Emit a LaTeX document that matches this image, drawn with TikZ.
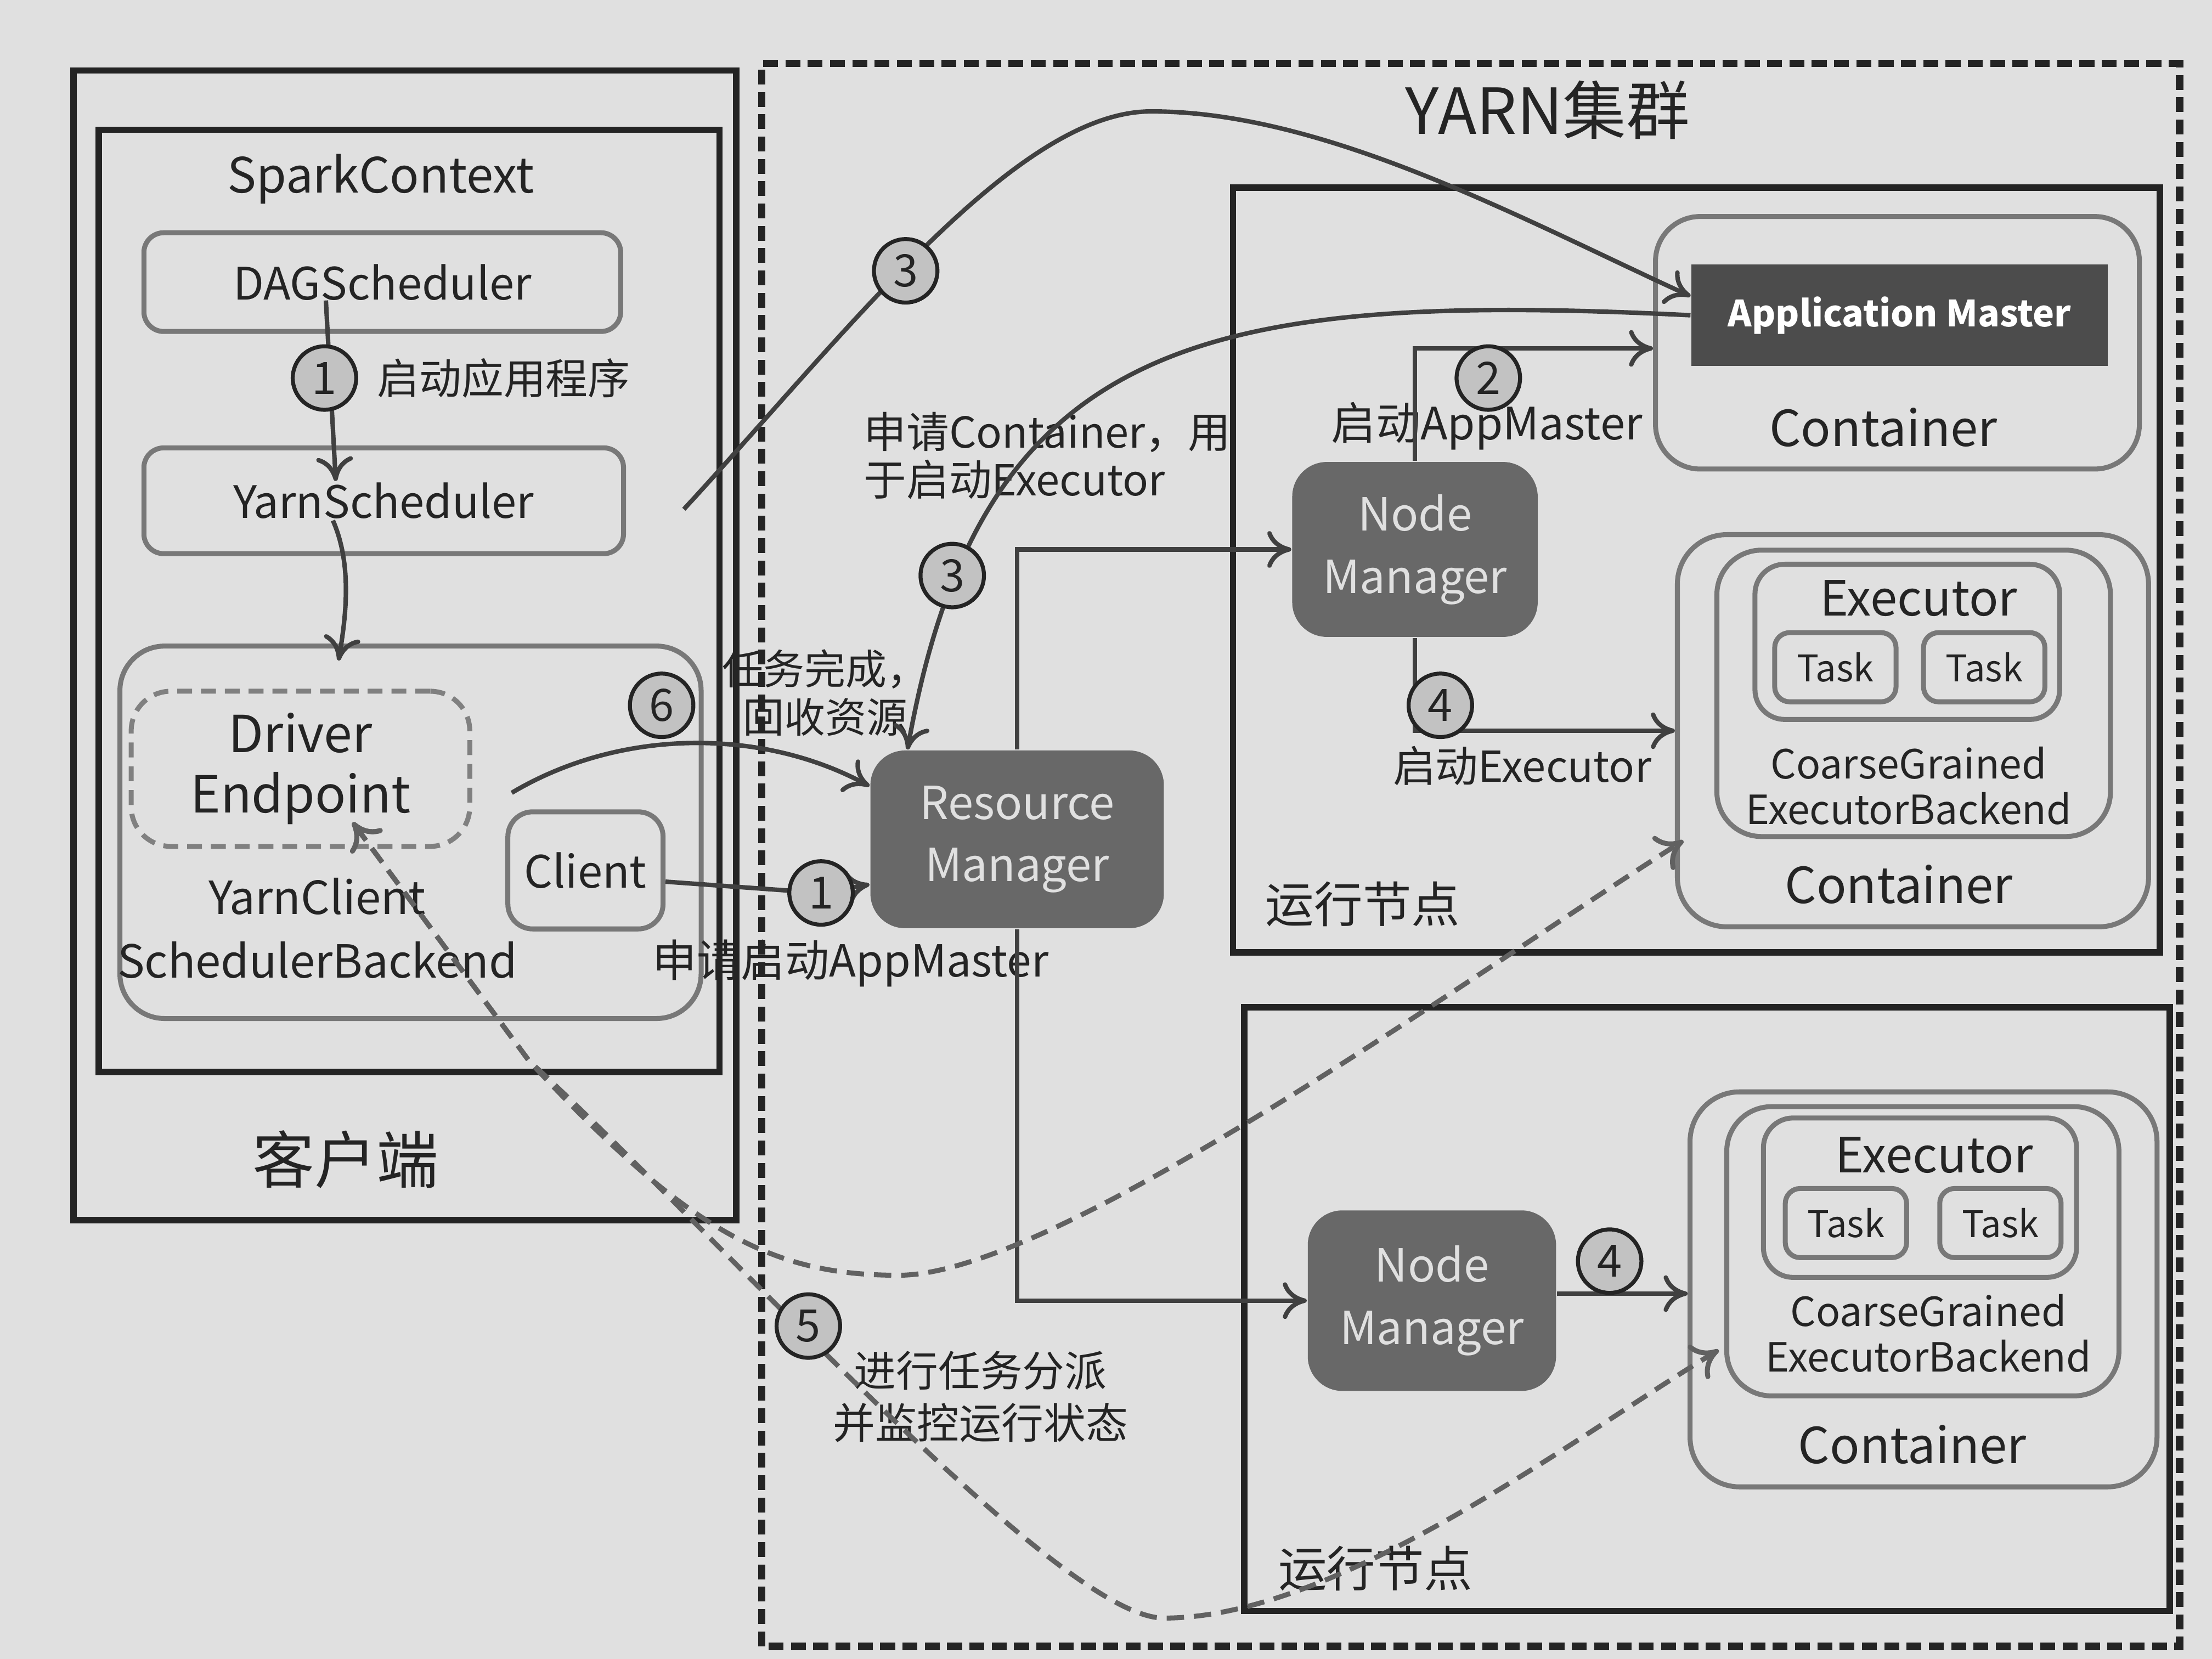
\documentclass[tikz,border=0pt]{standalone}
\usepackage{fontspec}
\setmainfont{Noto Sans CJK SC}
\usetikzlibrary{arrows.meta}
\definecolor{paper}{HTML}{E0E0E0}
\definecolor{ink}{HTML}{242424}
\definecolor{edge}{HTML}{787878}
\definecolor{mgrfill}{HTML}{686868}
\definecolor{amfill}{HTML}{4C4C4C}
\definecolor{numfill}{HTML}{C2C2C2}
\tikzset{
  frame/.style={draw=ink, line width=1.3pt},
  gbox/.style={draw=edge, line width=1pt, rounded corners=4pt, inner sep=0pt, text=ink},
  mgr/.style={fill=mgrfill, rounded corners=7pt, minimum width=1.74cm, minimum height=1.24cm, inner sep=0pt, text=black!12, align=center, font=\fontsize{9.2}{12.6}\selectfont},
  num/.style={circle, draw=ink, line width=0.8pt, fill=numfill, inner sep=0pt, minimum size=4.5mm, text=ink, font=\fontsize{9}{9}\selectfont},
  conn/.style={draw=black!75, line width=0.9pt},
  arr/.style={conn, -{To[length=1.7mm,width=2.6mm]}},
  dline/.style={draw=black!62, line width=1pt, dash pattern=on 3.5pt off 2pt},
  lbl/.style={text=ink, font=\fontsize{9}{10}\selectfont},
  ttl/.style={text=ink, font=\fontsize{9.8}{12}\selectfont},
  task/.style={gbox, rounded corners=3pt, minimum width=0.86cm, minimum height=0.49cm, font=\fontsize{7.4}{9}\selectfont},
  cgtxt/.style={text=ink, align=center, font=\fontsize{8.1}{9.2}\selectfont},
}
\begin{document}
\begin{tikzpicture}
\useasboundingbox (0,0) rectangle (15.68,11.76);
\fill[paper] (0,0) rectangle (15.68,11.76);

% client side
\draw[frame] (0.52,3.11) rectangle (5.22,11.26);
\draw[frame] (0.70,4.16) rectangle (5.10,10.84);
\node[ttl] (sc) at (2.70,10.49) {SparkContext};
\node[text=ink, font=\fontsize{12.5}{14}\selectfont] (kh) at (2.45,3.54) {客户端};
\node[gbox, minimum width=3.38cm, minimum height=0.70cm, font=\fontsize{9}{11}\selectfont] (dag) at (2.71,9.76) {DAGScheduler};
\node[gbox, minimum width=3.40cm, minimum height=0.75cm, font=\fontsize{9}{11}\selectfont] (ys) at (2.72,8.21) {YarnScheduler};
\node[gbox, rounded corners=9pt, minimum width=4.12cm, minimum height=2.64cm] (ycsb) at (2.91,5.86) {};
\node[gbox, draw=black!50, dash pattern=on 3pt off 1.8pt, rounded corners=8pt, minimum width=2.40cm, minimum height=1.10cm, align=center, font=\fontsize{10.3}{12.2}\selectfont] (de) at (2.13,6.31) {Driver\\Endpoint};
\node[text=ink, align=center, font=\fontsize{9.2}{12.8}\selectfont] (ycsbtxt) at (2.25,5.18) {YarnClient\\SchedulerBackend};
\node[gbox, rounded corners=5pt, minimum width=1.10cm, minimum height=0.83cm, font=\fontsize{9}{11}\selectfont] (client) at (4.15,5.59) {Client};
\node[lbl, anchor=west, font=\fontsize{8.5}{10}\selectfont] (lb1) at (2.55,9.08) {启动应用程序};

% yarn cluster
\draw[draw=ink, line width=1.5pt, dash pattern=on 3pt off 1.5pt] (5.40,0.09) rectangle (15.45,11.31);
\node[text=ink, font=\fontsize{12.8}{15}\selectfont] (yarn) at (10.97,10.98) {YARN集群};
\node[mgr, minimum width=2.08cm, minimum height=1.26cm] (rm) at (7.21,5.81) {Resource\\Manager};
\node[lbl, align=left, anchor=west, font=\fontsize{8.6}{9.6}\selectfont] (lb3) at (6.00,8.53) {申请Container，用\\于启动Executor};
\node[lbl, align=center, font=\fontsize{8.3}{9.7}\selectfont] (lb6) at (5.85,6.85) {任务完成，\\回收资源};
\node[lbl, font=\fontsize{8.9}{10}\selectfont] (lb1b) at (6.03,4.93) {申请启动AppMaster};
\node[lbl, align=center, font=\fontsize{8.5}{10.5}\selectfont] (lb5) at (6.95,1.86) {进行任务分派\\并监控运行状态};

% top node
\draw[frame] (8.74,5.01) rectangle (15.31,10.43);
\node[text=ink, font=\fontsize{9.8}{11}\selectfont] (node1) at (9.66,5.35) {运行节点};
\node[mgr] (nm1) at (10.03,7.865) {Node\\Manager};
\node[lbl] (lb2) at (10.54,8.74) {启动AppMaster};
\node[lbl, font=\fontsize{8.6}{10}\selectfont] (lb4) at (10.79,6.33) {启动Executor};
\node[gbox, rounded corners=9pt, minimum width=3.43cm, minimum height=1.79cm] (ct1) at (13.45,9.33) {};
\node[fill=amfill, minimum width=2.95cm, minimum height=0.72cm, inner sep=0pt, text=white, font=\bfseries\fontsize{7.3}{9}\selectfont] (am) at (13.465,9.525) {Application Master};
\node[ttl, font=\fontsize{10}{12}\selectfont] (ct1txt) at (13.35,8.73) {Container};
\node[gbox, rounded corners=10pt, minimum width=3.34cm, minimum height=2.78cm] (cont2) at (13.56,6.58) {};
\node[gbox, rounded corners=9pt, minimum width=2.79cm, minimum height=2.03cm] (cg2) at (13.565,6.845) {};
\node[gbox, rounded corners=6pt, minimum width=2.16cm, minimum height=1.10cm] (ex2) at (13.52,7.21) {};
\node[task] (tk2a) at (13.01,7.03) {Task};
\node[task] (tk2b) at (14.065,7.03) {Task};
\node[ttl] (ex2txt) at (13.60,7.52) {Executor};
\node[cgtxt] (cg2txt) at (13.53,6.19) {CoarseGrained\\ExecutorBackend};
\node[ttl, font=\fontsize{10}{12}\selectfont] (cont2txt) at (13.46,5.49) {Container};

% bottom node
\draw[frame] (8.82,0.34) rectangle (15.38,4.62);
\node[text=ink, font=\fontsize{9.8}{11}\selectfont] (node2) at (9.75,0.64) {运行节点};
\node[mgr, minimum width=1.76cm, minimum height=1.28cm] (nm2) at (10.15,2.54) {Node\\Manager};
\node[gbox, rounded corners=10pt, minimum width=3.31cm, minimum height=2.80cm] (cont3) at (13.635,2.62) {};
\node[gbox, rounded corners=9pt, minimum width=2.78cm, minimum height=2.05cm] (cg3) at (13.63,2.89) {};
\node[gbox, rounded corners=6pt, minimum width=2.22cm, minimum height=1.13cm] (ex3) at (13.61,3.27) {};
\node[task] (tk3a) at (13.085,3.09) {Task};
\node[task] (tk3b) at (14.18,3.09) {Task};
\node[ttl] (ex3txt) at (13.71,3.57) {Executor};
\node[cgtxt] (cg3txt) at (13.67,2.31) {CoarseGrained\\ExecutorBackend};
\node[ttl, font=\fontsize{10}{12}\selectfont] (cont3txt) at (13.555,1.52) {Container};

% step marks
\coordinate (p1a) at (2.30,9.08);
\coordinate (p1b) at (5.82,5.43);
\coordinate (p2) at (10.55,9.08);
\coordinate (p3a) at (6.42,9.84);
\coordinate (p3b) at (6.75,7.68);
\coordinate (p4a) at (10.21,6.76);
\coordinate (p4b) at (11.41,2.82);
\coordinate (p5) at (5.73,2.36);
\coordinate (p6) at (4.69,6.76);

% connectors
\draw[arr] ([xshift=-4mm,yshift=-1.3mm]dag.center) -- ([xshift=-3.4mm,yshift=1.4mm]ys.center);
\draw[arr] ([xshift=-3.6mm,yshift=-1.4mm]ys.center) .. controls +(0.14,-0.32) and +(0.05,0.30) .. ([xshift=-5.1mm,yshift=-1.2mm]ycsb.north);
\draw[arr] ([yshift=-0.8mm]client.east) -- (p1b) -- ([yshift=-3.2mm]rm.west);
\draw[arr] ([xshift=2.8mm,yshift=-1.7mm]de.east) .. controls (4.4,6.6) and (5.4,6.6) .. ([yshift=-2.6mm]rm.north west);
\draw[arr] ([xshift=4.1mm,yshift=-0.6mm]ys.east) .. controls (6.0,9.4) and (7.2,10.97) .. (8.16,10.97) .. controls (9.4,10.97) and (10.8,10.2) .. ([yshift=1.35mm]am.west);
\draw[arr] (am.west) .. controls (8.5,9.7) and (6.95,9.35) .. ([xshift=2.7mm]rm.north west);
\draw[arr] (rm.north) |- (nm1.west);
\draw[arr] (rm.south) |- (nm2.west);
\draw[arr] (nm1.north) |- ([yshift=-0.4mm]ct1.west);
\draw[arr] (nm1.south) |- (cont2.west);
\draw[arr] ([yshift=0.5mm]nm2.east) -- ([yshift=0.5mm]nm2.east -| cont3.west);
\draw[dline, {To[length=1.8mm,width=2.8mm]}-{To[length=1.8mm,width=2.8mm]}] ([xshift=3.7mm,yshift=-3.8mm]de.center) -- (3.75,4.24) .. controls (4.9,3.0) and (5.5,2.72) .. (6.37,2.72) .. controls (7.5,2.72) and (10.5,4.9) .. ([xshift=0.6mm,yshift=-7.8mm]cont2.west);
\draw[dline, {To[length=1.8mm,width=2.8mm]}-{To[length=1.8mm,width=2.8mm]}] ([xshift=3.7mm,yshift=-3.8mm]de.center) -- (3.75,4.24) .. controls (5.1,3.0) and (7.5,0.29) .. (8.25,0.29) .. controls (9.5,0.29) and (11.2,1.6) .. ([xshift=-0.4mm,yshift=-7mm]cg3.west);

\node[num] (n1a) at (p1a) {1};
\node[num] (n1b) at (p1b) {1};
\node[num] (n2) at (p2) {2};
\node[num] (n3a) at (p3a) {3};
\node[num] (n3b) at (p3b) {3};
\node[num] (n4a) at (p4a) {4};
\node[num] (n4b) at (p4b) {4};
\node[num] (n5) at (p5) {5};
\node[num] (n6) at (p6) {6};
\end{tikzpicture}
\end{document}
